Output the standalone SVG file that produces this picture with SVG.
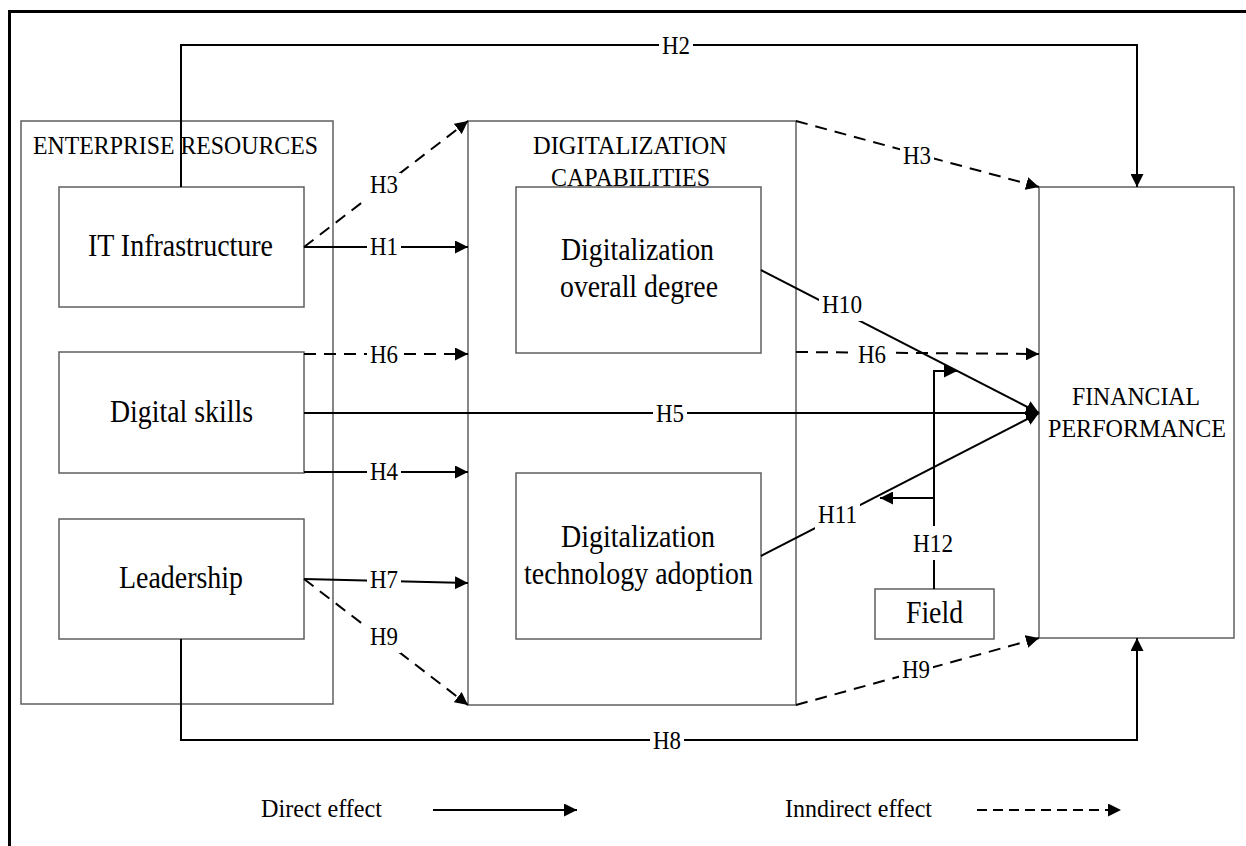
<svg xmlns="http://www.w3.org/2000/svg" width="1246" height="846" viewBox="0 0 1246 846">
<style>
.box{fill:none;stroke:#5f5f5f;stroke-width:1.5}
.wbox{fill:#fff;stroke:#5f5f5f;stroke-width:1.5}
.t{font-family:"Liberation Serif","Times New Roman",serif;fill:#000}
.title{font-size:26px}
.nt{font-size:32px}
.lab{font-size:25px}
.leg{font-size:26px}
.ln{fill:none;stroke:#000;stroke-width:2}
.dash{stroke-dasharray:12 8}
.lg{fill:#fff;stroke:none}
</style>
<defs>
<marker id="ah" markerUnits="userSpaceOnUse" markerWidth="13" markerHeight="13" refX="13" refY="6.5" orient="auto">
<path d="M0,0 L13,6.5 L0,13 Z" fill="#000" stroke="none"/>
</marker>
</defs>
<rect x="0" y="0" width="1246" height="846" fill="#fff"/>
<path d="M9.5,846 V11.5 H1246" fill="none" stroke="#000" stroke-width="3"/>

<g id="enterprise-resources">
<rect class="box" x="21" y="121" width="312" height="583"/>
<text class="t title" x="33" y="154" textLength="285" lengthAdjust="spacingAndGlyphs">ENTERPRISE RESOURCES</text>
</g>
<g id="it-infrastructure">
<rect class="wbox" x="59" y="187" width="245" height="120"/>
<text class="t nt" x="88" y="256" textLength="185" lengthAdjust="spacingAndGlyphs">IT Infrastructure</text>
</g>
<g id="digital-skills">
<rect class="wbox" x="59" y="352" width="245" height="121"/>
<text class="t nt" x="110" y="422" textLength="143" lengthAdjust="spacingAndGlyphs">Digital skills</text>
</g>
<g id="leadership">
<rect class="wbox" x="59" y="519" width="245" height="120"/>
<text class="t nt" x="119" y="588" textLength="124" lengthAdjust="spacingAndGlyphs">Leadership</text>
</g>
<g id="digitalization-capabilities">
<rect class="box" x="468" y="121" width="328" height="584"/>
<text class="t title" x="533" y="154" textLength="194" lengthAdjust="spacingAndGlyphs">DIGITALIZATION</text>
<text class="t title" x="551" y="186" textLength="159" lengthAdjust="spacingAndGlyphs">CAPABILITIES</text>
</g>
<g id="overall-degree">
<rect class="wbox" x="516" y="187" width="245" height="166"/>
<text class="t nt" x="561" y="260" textLength="153" lengthAdjust="spacingAndGlyphs">Digitalization</text>
<text class="t nt" x="560" y="297" textLength="158" lengthAdjust="spacingAndGlyphs">overall degree</text>
</g>
<g id="technology-adoption">
<rect class="wbox" x="516" y="473" width="245" height="166"/>
<text class="t nt" x="561" y="547" textLength="154" lengthAdjust="spacingAndGlyphs">Digitalization</text>
<text class="t nt" x="524" y="584" textLength="229" lengthAdjust="spacingAndGlyphs">technology adoption</text>
</g>
<g id="financial-performance">
<rect class="box" x="1039" y="187" width="195" height="451"/>
<text class="t title" x="1072" y="405" textLength="128" lengthAdjust="spacingAndGlyphs">FINANCIAL</text>
<text class="t title" x="1048" y="437" textLength="178" lengthAdjust="spacingAndGlyphs">PERFORMANCE</text>
</g>
<g id="field">
<rect class="wbox" x="875" y="589" width="119" height="50"/>
<text class="t nt" x="906" y="623" textLength="57" lengthAdjust="spacingAndGlyphs">Field</text>
</g>

<g id="connectors">
<path class="ln" d="M181,187 V45 H1137 V187" marker-end="url(#ah)"/>
<path class="ln" d="M181,639 V740 H1137 V638" marker-end="url(#ah)"/>
<path class="ln" d="M304,247 H468" marker-end="url(#ah)"/>
<path class="ln dash" d="M304,247 L468,121" marker-end="url(#ah)"/>
<path class="ln dash" d="M304,354 H468" marker-end="url(#ah)"/>
<path class="ln" d="M304,413 H1039" marker-end="url(#ah)"/>
<path class="ln" d="M304,472 H468" marker-end="url(#ah)"/>
<path class="ln" d="M304,579 L468,583" marker-end="url(#ah)"/>
<path class="ln dash" d="M304,579 L468,705" marker-end="url(#ah)"/>
<path class="ln dash" d="M796,121 L1039,187" marker-end="url(#ah)"/>
<path class="ln dash" d="M796,352 L1039,354" marker-end="url(#ah)"/>
<path class="ln" d="M761,270 L1039,413" marker-end="url(#ah)"/>
<path class="ln" d="M761,556 L1039,413" marker-end="url(#ah)"/>
<path class="ln dash" d="M796,705 L1039,638" marker-end="url(#ah)"/>
<path class="ln" d="M934,589 V371 H957" marker-end="url(#ah)"/>
<path class="ln" d="M934,498 H880" marker-end="url(#ah)"/>

<g id="labels">
<rect class="lg" x="659" y="34" width="34" height="28"/>
<text class="t lab" x="662" y="53.5" textLength="28" lengthAdjust="spacingAndGlyphs">H2</text>
<rect class="lg" x="650" y="729" width="34" height="28"/>
<text class="t lab" x="653" y="748.5" textLength="28" lengthAdjust="spacingAndGlyphs">H8</text>
<rect class="lg" x="367" y="173" width="34" height="28"/>
<text class="t lab" x="370" y="193" textLength="28" lengthAdjust="spacingAndGlyphs">H3</text>
<rect class="lg" x="367" y="235" width="34" height="28"/>
<text class="t lab" x="370" y="255" textLength="28" lengthAdjust="spacingAndGlyphs">H1</text>
<rect class="lg" x="367" y="343" width="34" height="28"/>
<text class="t lab" x="370" y="363" textLength="28" lengthAdjust="spacingAndGlyphs">H6</text>
<rect class="lg" x="653" y="401" width="34" height="28"/>
<text class="t lab" x="656" y="421.5" textLength="28" lengthAdjust="spacingAndGlyphs">H5</text>
<rect class="lg" x="367" y="460" width="34" height="28"/>
<text class="t lab" x="370" y="480" textLength="28" lengthAdjust="spacingAndGlyphs">H4</text>
<rect class="lg" x="367" y="568" width="34" height="28"/>
<text class="t lab" x="370" y="588" textLength="28" lengthAdjust="spacingAndGlyphs">H7</text>
<rect class="lg" x="367" y="625" width="34" height="28"/>
<text class="t lab" x="370" y="645" textLength="28" lengthAdjust="spacingAndGlyphs">H9</text>
<rect class="lg" x="900" y="144" width="34" height="28"/>
<text class="t lab" x="903" y="164" textLength="28" lengthAdjust="spacingAndGlyphs">H3</text>
<rect class="lg" x="855" y="343" width="34" height="28"/>
<text class="t lab" x="858" y="363" textLength="28" lengthAdjust="spacingAndGlyphs">H6</text>
<rect class="lg" x="819" y="293" width="45" height="28"/>
<text class="t lab" x="822" y="313" textLength="40" lengthAdjust="spacingAndGlyphs">H10</text>
<rect class="lg" x="815" y="503" width="45" height="28"/>
<text class="t lab" x="818" y="523" textLength="39" lengthAdjust="spacingAndGlyphs">H11</text>
<rect class="lg" x="911" y="526" width="45" height="34"/>
<text class="t lab" x="913" y="552" textLength="40" lengthAdjust="spacingAndGlyphs">H12</text>
<rect class="lg" x="899" y="658" width="34" height="28"/>
<text class="t lab" x="902" y="678" textLength="28" lengthAdjust="spacingAndGlyphs">H9</text>
</g>
</g>

<g id="legend">
<text class="t leg" x="261" y="817" textLength="121" lengthAdjust="spacingAndGlyphs">Direct effect</text>
<path class="ln" d="M433,810 H577" marker-end="url(#ah)"/>
<text class="t leg" x="785" y="817" textLength="147" lengthAdjust="spacingAndGlyphs">Inndirect effect</text>
<path class="ln" d="M977,810 H1121" stroke-dasharray="10 6" marker-end="url(#ah)"/>
</g>
</svg>
